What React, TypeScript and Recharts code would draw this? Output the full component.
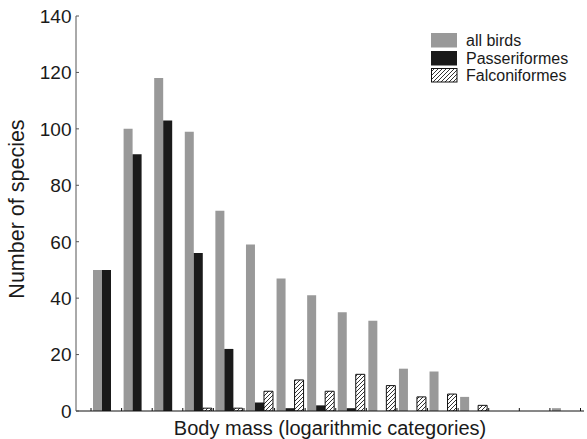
import React from 'react';
import { BarChart, Bar, XAxis, YAxis, Legend } from 'recharts';

const categories = ['c1', 'c2', 'c3', 'c4', 'c5', 'c6', 'c7', 'c8', 'c9', 'c10', 'c11', 'c12', 'c13', 'c14', 'c15', 'c16'];
const allBirds = [50, 100, 118, 99, 71, 59, 47, 41, 35, 32, 15, 14, 5, 0, 0, 1];
const passeriformes = [50, 91, 103, 56, 22, 3, 1, 2, 1, 0, 0, 0, 0, 0, 0, 0];
const falconiformes = [0, 0, 0, 1, 1, 7, 11, 7, 13, 9, 5, 6, 2, 0, 0, 0];
const yTicks = [0, 20, 40, 60, 80, 100, 120, 140];
const seriesNames = ['all birds', 'Passeriformes', 'Falconiformes'];
const seriesFills = ['#999999', '#1a1a1a', 'url(#hatch)'];
const xTitle = 'Body mass (logarithmic categories)';
const yTitle = 'Number of species';

const data = categories.map((c, i) => ({
  cat: c,
  all: allBirds[i],
  pas: passeriformes[i],
  fal: falconiformes[i],
}));

const FONT = '"Liberation Sans", Arial, Helvetica, sans-serif';
const BAND = (508 - 15 - 3.5) / 16;

const XTick = (props: any) => {
  const { x, y, index } = props;
  const left = x - BAND / 2;
  return (
    <g>
      <line x1={left} x2={left} y1={y} y2={y - 3} stroke="#111" strokeWidth={1} />
      {index === categories.length - 1 ? (
        <line x1={x + BAND / 2} x2={x + BAND / 2} y1={y} y2={y - 3} stroke="#111" strokeWidth={1} />
      ) : null}
    </g>
  );
};

const YTick = (props: any) => {
  const { x, y, payload } = props;
  return (
    <g>
      <line x1={x} x2={x + 3} y1={y} y2={y} stroke="#555" strokeWidth={1} />
      <text x={x - 4.5} y={y} dy="0.36em" textAnchor="end" fontSize={19} fill="#1a1a1a" fontFamily={FONT}>
        {payload.value}
      </text>
    </g>
  );
};

const XLabel = (props: any) => {
  const { viewBox } = props;
  return (
    <text
      x={viewBox.x + viewBox.width / 2}
      y={viewBox.y + viewBox.height - 4}
      textAnchor="middle"
      fontSize={20}
      fill="#1a1a1a"
      fontFamily={FONT}
    >
      {xTitle}
    </text>
  );
};

const YLabel = () => {
  const cx = 24;
  const cy = 209;
  return (
    <text
      x={cx}
      y={cy}
      transform={`rotate(-90, ${cx}, ${cy})`}
      textAnchor="middle"
      fontSize={21.5}
      fill="#1a1a1a"
      fontFamily={FONT}
    >
      {yTitle}
    </text>
  );
};

const LegendContent = () => {
  return (
    <div style={{ fontFamily: FONT, fontSize: 16, color: '#1a1a1a' }}>
      {seriesNames.map((name, i) => (
        <div key={name} style={{ display: 'flex', alignItems: 'center', height: 17.5 }}>
          <svg width={27} height={15} style={{ display: 'block' }}>
            {i === 2 ? (
              <>
                <defs>
                  <pattern id="hatchLegend" patternUnits="userSpaceOnUse" width="4" height="4">
                    <rect width="4" height="4" fill="#fff" />
                    <path d="M-1,1 l2,-2 M0,4 l4,-4 M3,5 l2,-2" stroke="#333" strokeWidth="1" />
                  </pattern>
                </defs>
                <rect x={0.5} y={0.5} width={25.5} height={13.5} fill="url(#hatchLegend)" stroke="#111" strokeWidth={1} />
              </>
            ) : (
              <rect x={0} y={0} width={26} height={14.5} fill={seriesFills[i]} />
            )}
          </svg>
          <span style={{ marginLeft: 8, lineHeight: '17px' }}>{name}</span>
        </div>
      ))}
    </div>
  );
};

export default function App() {
  return (
    <div style={{ position: 'absolute', left: 0, top: 0, background: '#fff' }}>
      <BarChart
        width={587}
        height={439}
        data={data}
        margin={{ top: 16, right: 3, bottom: 0, left: 0 }}
        barGap={0}
        barSize={9}
        style={{ fontFamily: FONT }}
      >
        <defs>
          <pattern id="hatch" patternUnits="userSpaceOnUse" width="4" height="4">
            <rect width="4" height="4" fill="#fff" />
            <path d="M-1,1 l2,-2 M0,4 l4,-4 M3,5 l2,-2" stroke="#333" strokeWidth="1" />
          </pattern>
        </defs>
        <XAxis
          dataKey="cat"
          height={28}
          padding={{ left: 15, right: 3.5 }}
          axisLine={{ stroke: '#111' }}
          tickLine={false}
          tickSize={0}
          tickMargin={0}
          interval={0}
          tick={<XTick />}
          label={<XLabel />}
        />
        <YAxis
          domain={[0, 140]}
          ticks={yTicks}
          width={76}
          axisLine={{ stroke: '#555' }}
          tickLine={false}
          tickSize={0}
          tickMargin={0}
          interval={0}
          tick={<YTick />}
          label={<YLabel />}
          allowDataOverflow
        />
        <Bar dataKey="all" name={seriesNames[0]} fill={seriesFills[0]} isAnimationActive={false} />
        <Bar dataKey="pas" name={seriesNames[1]} fill={seriesFills[1]} isAnimationActive={false} />
        <Bar dataKey="fal" name={seriesNames[2]} fill={seriesFills[2]} stroke="#111" strokeWidth={1} isAnimationActive={false} />
        <Legend
          layout="vertical"
          align="center"
          verticalAlign="middle"
          wrapperStyle={{ top: 32, left: 431, width: 'auto' }}
          content={<LegendContent />}
        />
      </BarChart>
    </div>
  );
}
